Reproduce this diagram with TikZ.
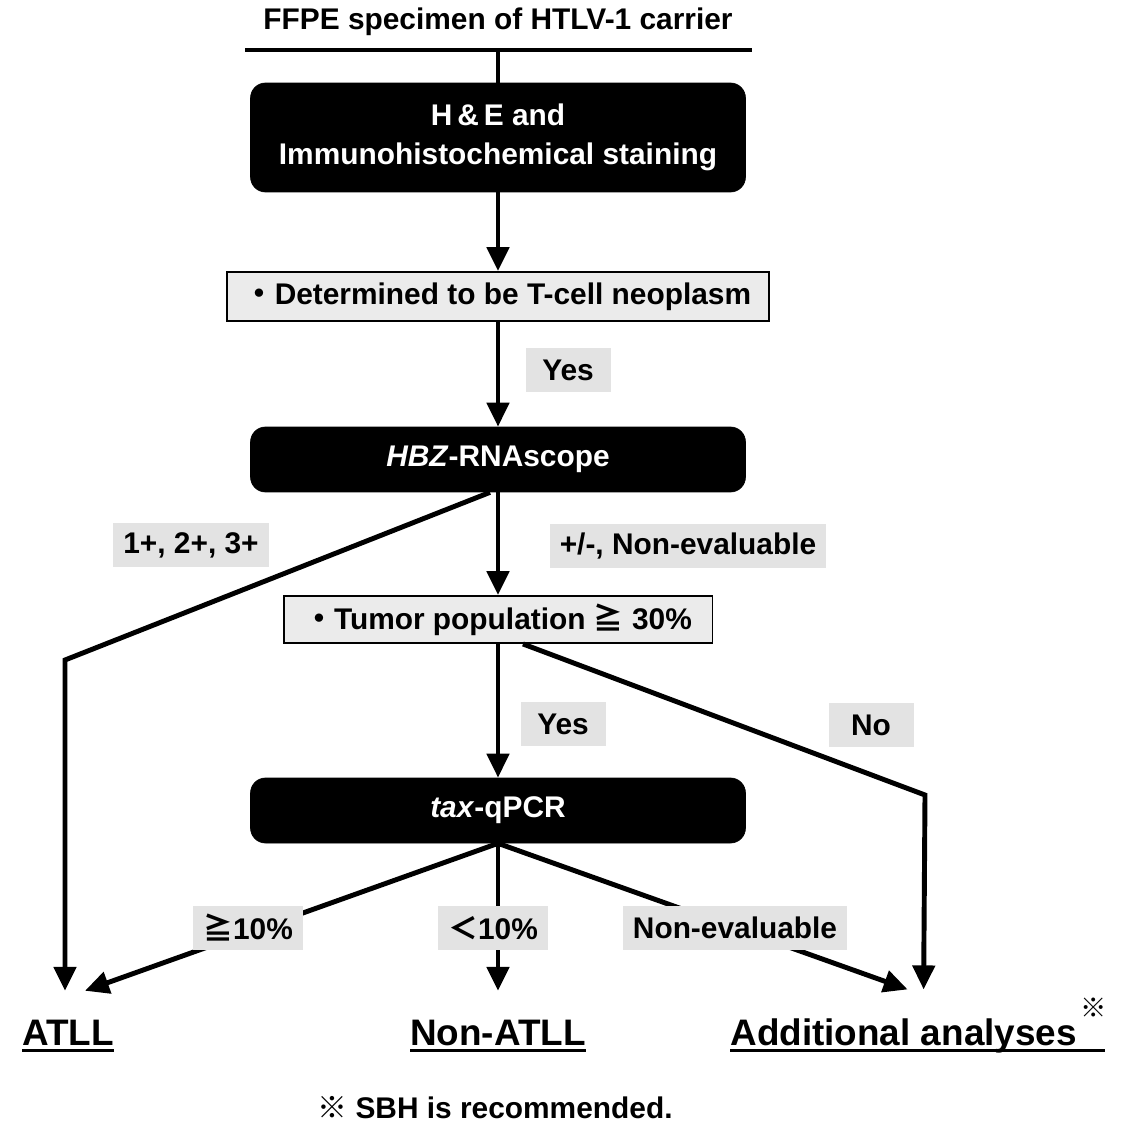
\documentclass[tikz,border=0pt]{standalone}
\usepackage{fontspec}
\setmainfont{Liberation Sans}
\newfontfamily\cjk{Noto Sans CJK JP}
\usepackage{tikz}
\usetikzlibrary{arrows.meta}
\definecolor{boxgray}{gray}{0.92}
\definecolor{lblgray}{gray}{0.89}
\newcommand{\ulbold}[1]{\setbox0=\hbox{#1}\makebox[0pt][l]{\rule[-4pt]{\wd0}{1.6pt}}\box0}

\begin{document}
\begin{tikzpicture}[x=0.02cm, y=-0.02cm,
            font=\bfseries\fontsize{17}{22}\selectfont,
            >={Triangle[length=0.48cm,width=0.44cm]},
            line/.style={line width=2.8pt},
            arr/.style={line width=2.8pt, ->},
            blackbox/.style={shape=rectangle, rounded corners=0.3cm, fill=black, draw=black, text=white, minimum width=9.9cm, minimum height=1.3cm, align=center},
            graybox/.style={shape=rectangle, draw, line width=1.1pt, fill=boxgray, inner xsep=0.1cm},
            lbl/.style={fill=lblgray, minimum height=0.88cm, minimum width=1.7cm, inner xsep=0.2cm},
            outcome/.style={font=\bfseries\fontsize{21}{25}\selectfont, inner xsep=0pt, inner ysep=0.57cm}]
        \useasboundingbox (0,0) rectangle (1122,1125);

        \node (title) at (498,22) {FFPE specimen of HTLV-1 carrier};
        \coordinate (barL) at (245,50);
        \coordinate (barR) at (752,50);
        \coordinate (bar) at (498,50);

        \node[blackbox, minimum height=2.18cm] (he) at (498,137.5) {H\,\&\,E and\\Immunohistochemical staining};
        \node[graybox, minimum width=10.86cm, minimum height=0.98cm] (tcell) at (498,296.5) {{\cjk ・}Determined to be T-cell neoplasm};
        \node[blackbox] (hbz) at (498,459.5) {\textit{HBZ}-RNAscope};
        \node[graybox, minimum width=8.58cm, minimum height=0.94cm] (tumor) at (498,619.5) {{\cjk ・}Tumor population {\cjk ≧} 30\%};
        \node[blackbox] (tax) at (498,810.5) {\textit{tax}-qPCR};

        \node[outcome, anchor=base] (atll) at (68,1045) {\ulbold{ATLL}};
        \node[outcome, anchor=base] (nonatll) at (498,1045) {\ulbold{Non-ATLL}};
        \node[outcome, anchor=base west] (add) at (730,1045) {\ulbold{Additional analyses\hspace{0.56cm}}};
        \node[font=\bfseries\fontsize{15}{17}\selectfont\cjk] (addmark) at (1094,1008) {※};

        \coordinate (bendL) at (65,660);
        \coordinate (bendR) at (925,795);

        \draw[line] (barL) -- (barR);
        \draw[line] (bar) -- (he.north);
        \draw[arr] (he.south) -- (tcell.north);
        \draw[arr] (tcell.south) -- (hbz.north);
        \draw[arr] (hbz.south) -- (tumor.north);
        \draw[arr] ([xshift=-0.16cm]hbz.south) -- (bendL) -- ([xshift=-0.06cm]atll.north);
        \draw[arr] (tumor.south) -- (tax.north);
        \draw[arr] ([xshift=0.5cm]tumor.south) -- (bendR) -- ([xshift=0.12cm]add.north);
        \draw[arr] (tax.south) -- ([xshift=0.34cm]atll.north);
        \draw[arr] (tax.south) -- (nonatll.north);
        \draw[arr] (tax.south) -- ([xshift=-0.2cm]add.north);

        % branch labels
        \node[lbl] (yes1) at (568,370) {Yes};
        \node[lbl] (hbzpos) at (191,545) {1+, 2+, 3+};
        \node[lbl] (hbzneg) at (688,546) {+/-, Non-evaluable};
        \node[lbl] (yes2) at (563,724) {Yes};
        \node[lbl] (no) at (871,725) {No};
        \node[lbl] (taxhi) at (248,928) {{\cjk ≧}10\%};
        \node[lbl] (taxlo) at (493,928) {{\cjk ＜}10\%};
        \node[lbl] (taxne) at (735,928) {Non-evaluable};

        \node (note) at (495,1108) {{\cjk ※} SBH is recommended.};
    \end{tikzpicture}
\end{document}
